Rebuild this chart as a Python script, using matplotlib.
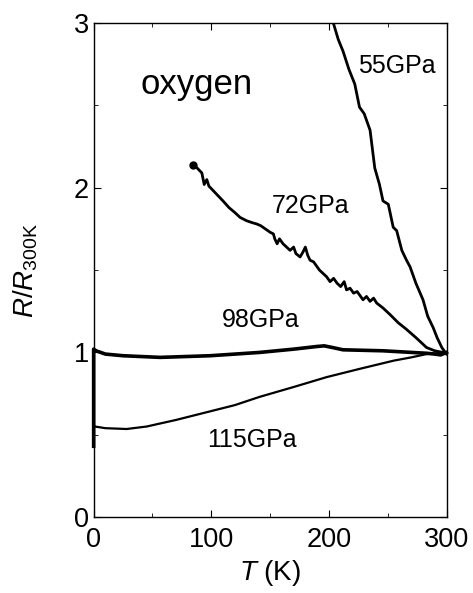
import matplotlib.pyplot as plt
from matplotlib.ticker import MultipleLocator

plt.rcParams['font.family'] = ['Liberation Sans', 'DejaVu Sans']
plt.rcParams['mathtext.fontset'] = 'custom'
plt.rcParams['mathtext.rm'] = 'Liberation Sans'
plt.rcParams['mathtext.it'] = 'Liberation Sans:italic'

# R/R300K vs T
t_55 = [203.8, 208, 212, 217, 222, 226, 230, 235, 239, 243, 246, 250.5, 254.7,
        257.6, 262, 266, 269, 274, 280, 284, 288.7, 292, 296, 300]
r_55 = [3.00, 2.90, 2.83, 2.72, 2.63, 2.49, 2.45, 2.35, 2.12, 2.02, 1.92, 1.90, 1.76,
        1.74, 1.62, 1.56, 1.52, 1.42, 1.32, 1.22, 1.15, 1.09, 1.03, 0.99]

t_72 = [84.3, 88, 92, 94, 96.2, 98, 102, 106, 110, 115, 120, 124.5, 130, 134, 138.7,
        142, 146, 150, 152.8, 154, 156, 158, 161, 164, 167, 170, 172, 175.5, 178,
        180, 182, 184, 187, 190, 192, 195, 198, 201, 204, 207, 210, 213, 215, 218,
        221, 224, 227, 229, 232, 235, 238, 240.6, 246, 252, 259, 266, 274, 283, 290,
        297, 300]
r_72 = [2.14, 2.12, 2.09, 2.02, 2.05, 2.01, 1.98, 1.95, 1.92, 1.88, 1.85, 1.82, 1.80,
        1.79, 1.78, 1.77, 1.75, 1.73, 1.72, 1.69, 1.66, 1.69, 1.66, 1.64, 1.62, 1.64,
        1.60, 1.58, 1.61, 1.64, 1.59, 1.56, 1.55, 1.52, 1.50, 1.48, 1.46, 1.43, 1.45,
        1.42, 1.40, 1.43, 1.38, 1.39, 1.36, 1.37, 1.34, 1.32, 1.34, 1.31, 1.33, 1.30,
        1.27, 1.23, 1.18, 1.14, 1.09, 1.03, 1.01, 1.00, 1.00]

t_98 = [0, 0, 2, 10, 25, 56.5, 99, 141, 170, 189.6, 196, 203, 212, 246, 283, 290, 295, 300]
r_98 = [0.43, 1.02, 1.01, 0.99, 0.98, 0.97, 0.98, 1.00, 1.02, 1.036, 1.04, 1.03, 1.016,
        1.01, 0.995, 0.99, 0.985, 1.0]

t_115 = [0, 0, 1, 10, 28, 45, 70, 95, 120, 141, 170, 198, 226, 255, 270, 283, 300]
r_115 = [0.42, 0.56, 0.55, 0.54, 0.535, 0.55, 0.59, 0.635, 0.68, 0.73, 0.79, 0.85,
         0.90, 0.95, 0.97, 0.99, 1.0]

labels = ["55GPa", "72GPa", "98GPa", "115GPa"]
label_pos = [(224.7, 2.74), (151.4, 1.89), (108.9, 1.20), (96.2, 0.467)]

fig = plt.figure(figsize=(4.73, 5.93), dpi=100)
ax = fig.add_axes([0.198, 0.128, 0.746, 0.833])

ax.plot(t_55, r_55, color="black", lw=2.0)
ax.plot(t_72, r_72, color="black", lw=2.0)
ax.plot(t_72[0], r_72[0], "o", color="black", ms=5)
ax.plot(t_98, r_98, color="black", lw=2.6, clip_on=False)
ax.plot(t_115, r_115, color="black", lw=1.6)

for lab, (x, y) in zip(labels, label_pos):
    ax.text(x, y, lab, fontsize=18, ha="left", va="center")
ax.text(39.5, 2.63, "oxygen", fontsize=25, ha="left", va="center")

ax.set_xlim(0, 300)
ax.set_ylim(0, 3)
ax.xaxis.set_major_locator(MultipleLocator(100))
ax.xaxis.set_minor_locator(MultipleLocator(50))
ax.yaxis.set_major_locator(MultipleLocator(1))
ax.yaxis.set_minor_locator(MultipleLocator(0.5))
ax.tick_params(which="both", direction="in", top=True, right=True, labelsize=19.5)
ax.tick_params(which="major", length=5)
ax.tick_params(which="minor", length=3)
ax.tick_params(axis="x", pad=7)
for s in ax.spines.values():
    s.set_linewidth(1.0)

ax.set_xlabel(r"$\mathit{T}$ (K)", fontsize=20, labelpad=4)
ax.set_ylabel(r"$\mathit{R}/\mathit{R}_{\rm 300K}$", fontsize=20, labelpad=24)

fig.savefig("out.png", dpi=100)
